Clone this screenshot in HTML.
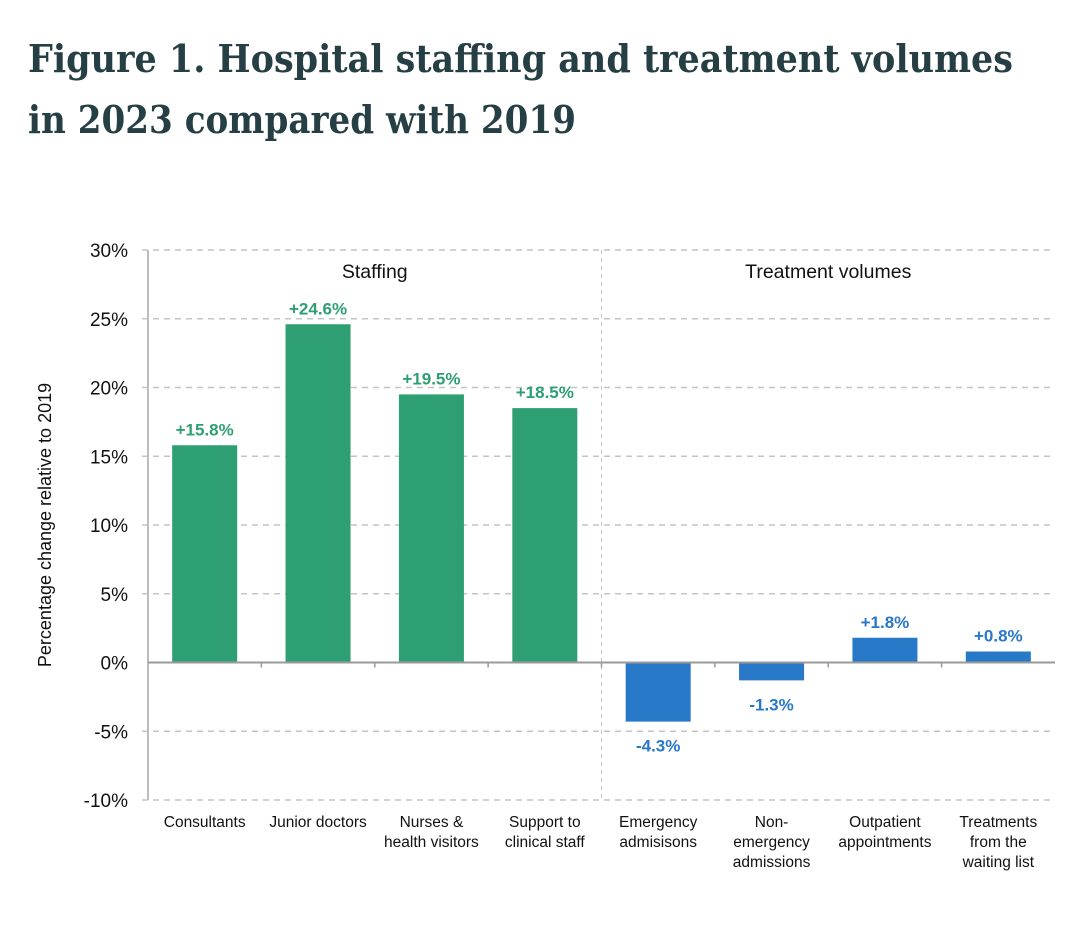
<!DOCTYPE html>
<html><head><meta charset="utf-8"><style>
html,body{margin:0;padding:0;background:#fff;}
svg{display:block;font-family:"Liberation Sans",Arial,sans-serif;}
</style></head><body>
<svg id="chart" width="1080" height="940" viewBox="0 0 1080 940" xmlns="http://www.w3.org/2000/svg">
<text x="28" y="72" font-family="'DejaVu Serif','Liberation Serif',serif" font-weight="bold" font-size="38" fill="#263f45" textLength="985" lengthAdjust="spacingAndGlyphs">Figure 1. Hospital staffing and treatment volumes</text>
<text x="28" y="133" font-family="'DejaVu Serif','Liberation Serif',serif" font-weight="bold" font-size="38" fill="#263f45" textLength="548" lengthAdjust="spacingAndGlyphs">in 2023 compared with 2019</text>
<g id="plot"></g>
</svg>
<script>
const categories = [["Consultants"],["Junior doctors"],["Nurses &","health visitors"],["Support to","clinical staff"],["Emergency","admisisons"],["Non-","emergency","admissions"],["Outpatient","appointments"],["Treatments","from the","waiting list"]];
const values = [15.8, 24.6, 19.5, 18.5, -4.3, -1.3, 1.8, 0.8];
const groups = ["staff","staff","staff","staff","treat","treat","treat","treat"];
const yTicks = [30, 25, 20, 15, 10, 5, 0, -5, -10];
const groupLabels = ["Staffing", "Treatment volumes"];

const NS = "http://www.w3.org/2000/svg";
const g = document.getElementById('plot');
const pLeft = 148, pRight = 1055, pTop = 250, pBottom = 800, yMax = 30, yMin = -10;
const yS = v => pTop + (yMax - v) / (yMax - yMin) * (pBottom - pTop);
const band = (pRight - pLeft) / categories.length;
const xS = i => pLeft + band * i;
function el(tag, attrs, parent) {
  const e = document.createElementNS(NS, tag);
  for (const k in attrs) e.setAttribute(k, attrs[k]);
  (parent || g).appendChild(e);
  return e;
}
yTicks.forEach(t => {
  if (t !== 0) {
    const l = el('line', {x1: pLeft - 6, x2: pRight, y1: yS(t), y2: yS(t), stroke: '#c4c4c4', 'stroke-width': 1.5, 'stroke-dasharray': '6,5'});
    
    
  }
  const tx = el('text', {x: pLeft - 20, y: yS(t) + 7, 'text-anchor': 'end', 'font-size': 19, fill: '#111'});
  tx.textContent = t + '%';
  
  
});
const ax = el('line', {x1: pLeft, x2: pLeft, y1: pTop, y2: pBottom, stroke: '#bdbdbd', 'stroke-width': 2});


const div = el('line', {x1: xS(4), x2: xS(4), y1: pTop, y2: pBottom, stroke: '#c8c8c8', 'stroke-width': 1, 'stroke-dasharray': '4,4'});


values.forEach((v, i) => {
  const col = groups[i] === 'staff' ? '#2e9f72' : '#2878c8';
  const bw = 65, cx = xS(i) + band / 2;
  const r = el('rect', {x: cx - bw / 2, y: Math.min(yS(v), yS(0)), width: bw, height: Math.abs(yS(v) - yS(0)), fill: col});
  
  
  const lbl = el('text', {x: cx, y: v >= 0 ? yS(v) - 10 : yS(v) + 30, 'text-anchor': 'middle', 'font-size': 17, 'font-weight': 'bold', fill: col});
  lbl.textContent = (v > 0 ? '+' : '') + v.toFixed(1) + '%';
  
  
  categories[i].forEach((line, j) => {
    const c = el('text', {x: cx, y: 827 + j * 20, 'text-anchor': 'middle', 'font-size': 15.5, fill: '#111'});
    c.textContent = line;
    
    
  });
});
const zl = el('line', {x1: pLeft, x2: pRight, y1: yS(0), y2: yS(0), stroke: '#9a9a9a', 'stroke-width': 2});


for (let i = 1; i < categories.length; i++) {
  const tk = el('line', {x1: xS(i), x2: xS(i), y1: yS(0), y2: yS(0) + 5, stroke: '#9a9a9a', 'stroke-width': 1.5});
  
  
}
groupLabels.forEach((t, k) => {
  const gl = el('text', {x: xS(k * 4) + band * 2, y: 278, 'text-anchor': 'middle', 'font-size': 19.5, fill: '#111'});
  gl.textContent = t;
  
  
});
const yt = el('text', {x: 0, y: 0, 'text-anchor': 'middle', 'font-size': 18, fill: '#111', transform: 'translate(51,525) rotate(-90)'});
yt.textContent = 'Percentage change relative to 2019';


</script>
</body></html>
